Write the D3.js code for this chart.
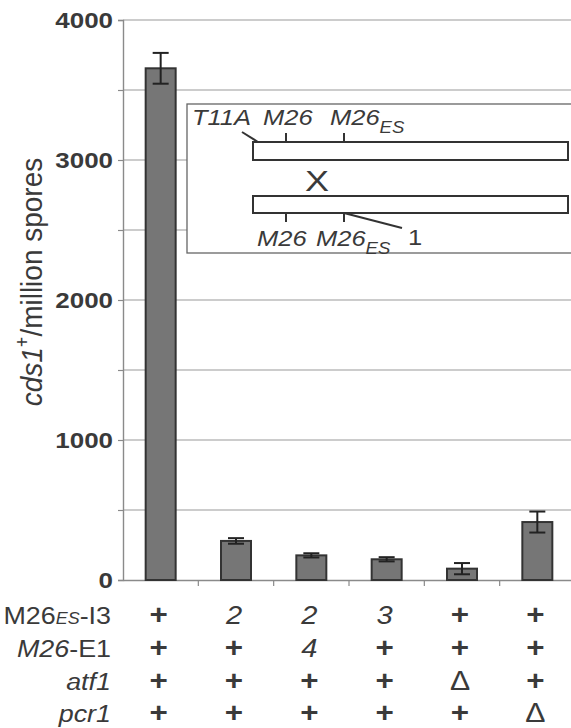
<!DOCTYPE html>
<html><head><meta charset="utf-8">
<script src="https://cdn.jsdelivr.net/npm/d3@7"></script>
<style>
html,body{margin:0;padding:0;background:#fff;}
svg{display:block;font-family:"Liberation Sans",Arial,sans-serif;}
</style></head>
<body>
<svg id="chart" width="571" height="728"></svg>
<script>
// ---- data ----
const categories = ["WT", "I3-2", "I3-2 E1-4", "I3-3", "atf1Δ", "pcr1Δ"];
const values = [3655, 279, 176, 148, 81, 414];
const errors = [110, 20, 15, 15, 40, 75];
const yTickLabels = [0, 1000, 2000, 3000, 4000];
const gridValues = [500, 1000, 1500, 2000, 2500, 3000, 3500, 4000];
const row1 = ["+", "2", "2", "3", "+", "+"];
const row2 = ["+", "+", "4", "+", "+", "+"];
const row3 = ["+", "+", "+", "+", "Δ", "+"];
const row4 = ["+", "+", "+", "+", "+", "Δ"];

const SX = 1.18; // horizontal stretch of text
const TXT = "#3a3a3a";
const svg = d3.select("#chart");
const x = d3.scaleBand().domain(categories).range([123, 575]).padding(0);
const y = d3.scaleLinear().domain([0, 4000]).range([580, 20]);

// gridlines
svg.append("g").selectAll("line").data(gridValues).join("line")
  .attr("x1", 123).attr("x2", 575)
  .attr("y1", d => y(d)).attr("y2", d => y(d))
  .attr("stroke", "#9a9a9a").attr("stroke-width", 1.2);

// y axis
const yAxis = svg.append("g").attr("transform", "translate(123,0)")
  .call(d3.axisLeft(y).tickValues(d3.range(0, 4001, 500)).tickSize(5).tickFormat(""));
yAxis.select(".domain").attr("stroke", "#8a8a8a").attr("stroke-width", 1.4);
yAxis.selectAll(".tick line").attr("stroke", "#8a8a8a").attr("stroke-width", 1.2);

// x axis
const xAxis = svg.append("g").attr("transform", "translate(0,580)")
  .call(d3.axisBottom(x).tickSize(0).tickFormat(""));
xAxis.select(".domain").attr("stroke", "#8a8a8a").attr("stroke-width", 1.4);
svg.append("g").selectAll("line").data(categories.slice(1)).join("line")
  .attr("x1", d => x(d)).attr("x2", d => x(d))
  .attr("y1", 580).attr("y2", 586)
  .attr("stroke", "#8a8a8a").attr("stroke-width", 1.2);

function stext(parent, tx, ty, anchor, sx) {
  return parent.append("g").attr("transform", `translate(${tx},${ty}) scale(${sx||SX},1)`)
    .append("text").attr("text-anchor", anchor).attr("fill", TXT);
}
// y tick labels
yTickLabels.forEach(v => {
  stext(svg, 113, y(v) + 8, "end").attr("font-size", 22).attr("font-weight", "bold").text(v);
});

// y title
const yt = svg.append("text").attr("transform", "translate(42,282) scale(1.08,1) rotate(-90)")
  .attr("text-anchor", "middle").attr("fill", TXT).attr("font-size", 28);
yt.append("tspan").attr("font-style", "italic").text("cds1");
yt.append("tspan").attr("font-size", 18).attr("dy", -12).text("+");
yt.append("tspan").attr("dy", 12).text("/million spores");

// inset diagram
const ins = svg.append("g");
ins.append("rect").attr("x", 187).attr("y", 104).attr("width", 400).attr("height", 149)
  .attr("fill", "#fff").attr("stroke", "#666").attr("stroke-width", 1.3);
ins.append("rect").attr("x", 253).attr("y", 142).attr("width", 315).attr("height", 18)
  .attr("fill", "#fff").attr("stroke", "#333").attr("stroke-width", 2);
ins.append("rect").attr("x", 253).attr("y", 196).attr("width", 315).attr("height", 17)
  .attr("fill", "#fff").attr("stroke", "#333").attr("stroke-width", 2);
const insLines = [[286,133,286,142],[344,133,344,142],[242,132,258,142],[286,213,286,222],[344,213,344,222],[344,213,402,228]];
ins.selectAll("line.l").data(insLines).join("line")
  .attr("x1", d => d[0]).attr("y1", d => d[1]).attr("x2", d => d[2]).attr("y2", d => d[3])
  .attr("stroke", "#333").attr("stroke-width", 2);
function insLabel(tx, ty, main, sub) {
  const t = stext(ins, tx, ty, "start", 1.16).attr("font-size", 22).attr("font-style", "italic");
  t.append("tspan").text(main);
  if (sub) t.append("tspan").attr("font-size", 16).attr("dy", 8).text(sub);
  return t;
}
insLabel(192, 125, "T11A");
insLabel(263, 125, "M26");
insLabel(330, 125, "M26", "ES");
insLabel(257, 246, "M26");
insLabel(316, 246, "M26", "ES");
stext(ins, 408, 245, "start", 1.16).attr("font-size", 22).text("1");
stext(ins, 317, 191, "middle", 1.2).attr("font-size", 30).text("X");

// bars
svg.append("g").selectAll("rect").data(values).join("rect")
  .attr("x", (d, i) => x(categories[i]) + x.bandwidth() / 2 - 15)
  .attr("width", 30)
  .attr("y", d => y(d)).attr("height", d => y(0) - y(d))
  .attr("fill", "#767676").attr("stroke", "#333").attr("stroke-width", 2);

// error bars
const eb = svg.append("g").attr("stroke", "#222").attr("stroke-width", 2);
values.forEach((v, i) => {
  const cx = x(categories[i]) + x.bandwidth() / 2;
  eb.append("line").attr("x1", cx).attr("x2", cx).attr("y1", y(v + errors[i])).attr("y2", y(v - errors[i]));
  eb.append("line").attr("x1", cx - 8).attr("x2", cx + 8).attr("y1", y(v + errors[i])).attr("y2", y(v + errors[i]));
  eb.append("line").attr("x1", cx - 8).attr("x2", cx + 8).attr("y1", y(v - errors[i])).attr("y2", y(v - errors[i]));
});

// table below
const rowsY = [624, 657, 690, 722];
const rows = [row1, row2, row3, row4];
const LS = 1.12;
const l1 = stext(svg, 111, rowsY[0], "end", LS).attr("font-size", 24);
l1.append("tspan").text("M26");
l1.append("tspan").attr("font-style", "italic").attr("font-size", 16).text("ES");
l1.append("tspan").text("-I3");
const l2 = stext(svg, 111, rowsY[1], "end", LS).attr("font-size", 24);
l2.append("tspan").attr("font-style", "italic").text("M26");
l2.append("tspan").text("-E1");
stext(svg, 111, rowsY[2], "end", LS).attr("font-size", 24).attr("font-style", "italic").text("atf1");
stext(svg, 111, rowsY[3], "end", LS).attr("font-size", 24).attr("font-style", "italic").text("pcr1");

rows.forEach((r, ri) => {
  r.forEach((s, ci) => {
    const cx = x(categories[ci]) + x.bandwidth() / 2 - 2;
    const size = s === "+" ? 28 : (s === "Δ" ? 27 : 26);
    const t = stext(svg, cx, rowsY[ri], "middle", 1.12).attr("font-size", size).text(s);
    if (/\d/.test(s)) t.attr("font-style", "italic");
    if (s === "+") t.attr("font-weight", "bold");
  });
});
</script>
</body></html>
